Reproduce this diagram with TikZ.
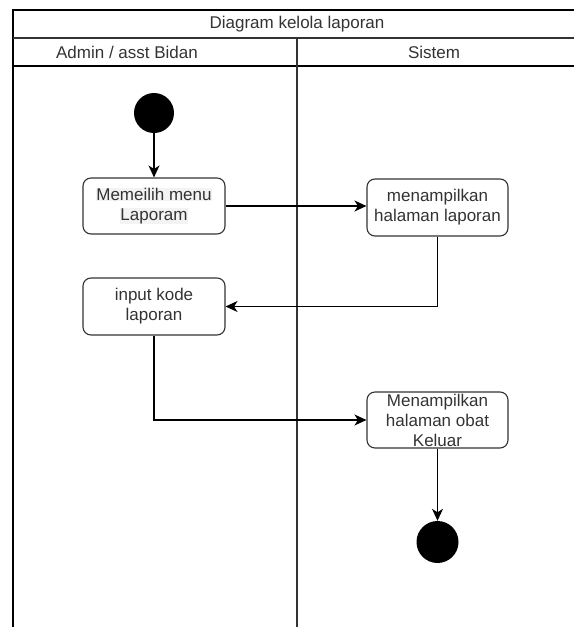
\documentclass[tikz,border=0pt]{standalone}
\usepackage{fontspec}
\setmainfont{Liberation Sans}
\usetikzlibrary{arrows.meta}
\definecolor{txt}{HTML}{333333}
\definecolor{ln}{HTML}{333333}
\definecolor{hl}{HTML}{F3F3F3}
\setlength{\fboxsep}{0.5pt}
\begin{document}
\begin{tikzpicture}[x=1pt,y=-1pt,
  act/.style={draw=ln,line width=1.1pt,rounded corners=8pt,minimum width=142pt,minimum height=56pt,inner sep=0pt,align=center,text=txt,font=\fontsize{17}{20}\selectfont},
  dot/.style={circle,fill=black,inner sep=0pt},
  flow/.style={draw=black,line width=1.2pt,-{Stealth[length=12pt,width=11pt,inset=3.5pt]}},
  lbl/.style={text=txt,font=\fontsize{17}{20}\selectfont,inner sep=0pt}]
\useasboundingbox (0,0) rectangle (574,627);
% swimlane frame
\draw[line width=1.2pt,black] (13,627) -- (13,10) -- (574,10);
\draw[line width=1.1pt,ln] (13,38) -- (574,38);
\draw[line width=1.6pt,black] (13,66) -- (574,66);
\draw[line width=1.2pt,ln] (297,38) -- (297,627);
% headers
\node[lbl] (title) at (297,24) {Diagram kelola laporan};
\node[lbl] (lane1) at (127,52) {Admin / asst Bidan};
\node[lbl] (lane2) at (434,52) {Sistem};
% activities
\node[dot,minimum size=40pt] (start) at (154,113) {};
\node[act] (b1) at (154,206) {\colorbox{hl}{Memeilih menu}\\\colorbox{hl}{Laporam}};
\node[act,minimum width=141pt,minimum height=57pt] (b3) at (437.5,207.5) {menampilkan\\halaman laporan};
\node[act,minimum height=57pt] (b2) at (154,306.5) {input kode\\laporan};
\node[act,minimum width=141pt] (b4) at (437.5,420) {Menampilkan\\halaman obat\\Keluar};
\node[dot,minimum size=42pt] (end) at (437.5,542) {};
% flows
\draw[flow] (start) -- (b1);
\draw[flow] (b1.east) -- (b1.east -| b3.west);
\draw[flow] (b3.south) |- (b2.east);
\draw[flow] (b2.south) |- (b4.west);
\draw[flow] (b4.south) -- (end.north);
\end{tikzpicture}
\end{document}
